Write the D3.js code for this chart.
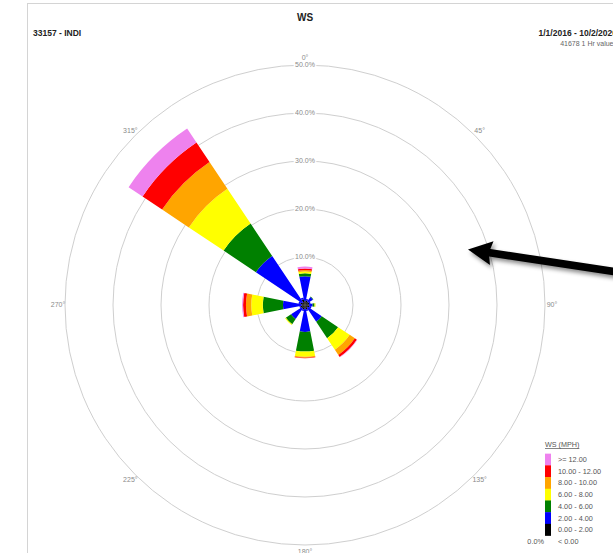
<!DOCTYPE html>
<html>
<head>
<meta charset="utf-8">
<script src="https://cdn.jsdelivr.net/npm/d3@7/dist/d3.min.js"></script>
<style>
  html, body { margin: 0; padding: 0; background: #fff; }
  svg { display: block; font-family: "Liberation Sans", Arial, sans-serif; }
</style>
</head>
<body>
<svg id="chart" width="613" height="553"></svg>
<script>
// Wind directions (degrees, compass bearing) — 16 sectors of 22.5°
const directions = [0, 22.5, 45, 67.5, 90, 112.5, 135, 157.5, 180, 202.5, 225, 247.5, 270, 292.5, 315, 337.5];

// Percent of hours per direction in each wind-speed class (MPH)
const ws0to2   = [0.8, 1.0, 0.8, 0.9, 0.8, 1.0, 0.7, 1.0, 0.8, 1.0, 0.8, 1.0, 0.7, 1.0, 0.7, 1.2];
const ws2to4   = [5.2, 0.3, 1.2, 0.3, 0.8, 0.4, 3.5, 0.3, 4.8, 0.3, 2.7, 0.2, 3.9, 0.4, 11.6, 0.4];
const ws4to6   = [0.6, 0.0, 0.1, 0.0, 0.4, 0.0, 4.1, 0.0, 4.1, 0.0, 1.3, 0.0, 4.2, 0.0, 8.1, 0.0];
const ws6to8   = [0.4, 0.0, 0.0, 0.0, 0.2, 0.0, 2.9, 0.0, 1.1, 0.0, 0.2, 0.0, 2.4, 0.0, 8.7, 0.0];
const ws8to10  = [0.3, 0.0, 0.0, 0.0, 0.0, 0.0, 1.3, 0.0, 0.2, 0.0, 0.0, 0.0, 1.1, 0.0, 6.7, 0.0];
const ws10to12 = [0.3, 0.0, 0.0, 0.0, 0.0, 0.0, 0.5, 0.0, 0.1, 0.0, 0.0, 0.0, 0.6, 0.0, 4.9, 0.0];
const ws12up   = [0.4, 0.0, 0.0, 0.0, 0.0, 0.0, 0.1, 0.0, 0.0, 0.0, 0.0, 0.0, 0.2, 0.0, 3.5, 0.0];

// Speed classes, from the centre outward
const speedSeries = [ws0to2, ws2to4, ws4to6, ws6to8, ws8to10, ws10to12, ws12up];
const speedLabels = ["0.00 - 2.00", "2.00 - 4.00", "4.00 - 6.00", "6.00 - 8.00", "8.00 - 10.00", "10.00 - 12.00", ">= 12.00"];
const speedColors = ["#000000", "#0000ff", "#008000", "#ffff00", "#ffa500", "#ff0000", "#ee82ee"];

// Radial grid and compass labels
const ringTicks = [10, 20, 30, 40, 50];
const angleTicks = [0, 45, 90, 135, 180, 225, 270, 315];
const calmPercent = 0.0;

const svg = d3.select("#chart");
const cx = 305, cy = 305;
const rScale = d3.scaleLinear().domain([0, 50]).range([0, 240]);
const toRad = d => d * Math.PI / 180;
const sector = 22.5;

// Panel frame
svg.append("rect")
  .attr("x", 27.5).attr("y", 3.5)
  .attr("width", 700).attr("height", 700)
  .attr("fill", "#fff").attr("stroke", "#d4d4d4");

// Header texts
svg.append("text").attr("x", 305).attr("y", 21)
  .attr("text-anchor", "middle").attr("font-size", 10).attr("font-weight", "bold")
  .attr("fill", "#222").text("WS");
svg.append("text").attr("x", 33).attr("y", 36)
  .attr("font-size", 8.5).attr("font-weight", "bold").attr("fill", "#222")
  .text("33157 - INDI");
svg.append("text").attr("x", 617).attr("y", 36)
  .attr("text-anchor", "end").attr("font-size", 8.5).attr("font-weight", "bold").attr("fill", "#222")
  .text("1/1/2016 - 10/2/2020");
svg.append("text").attr("x", 617).attr("y", 46)
  .attr("text-anchor", "end").attr("font-size", 7).attr("fill", "#666")
  .text("41678 1 Hr values");

const g = svg.append("g").attr("transform", `translate(${cx},${cy})`);

// Rings
g.selectAll("circle.ring").data(ringTicks).join("circle")
  .attr("class", "ring")
  .attr("r", d => rScale(d))
  .attr("fill", "none").attr("stroke", "#cfcfcf").attr("stroke-width", 1);

// Stacked petals
const arc = d3.arc();
const petals = [];
directions.forEach((dir, i) => {
  let acc = 0;
  speedSeries.forEach((series, k) => {
    const v = series[i];
    if (v > 0) {
      petals.push({
        inner: acc, outer: acc + v,
        start: toRad(dir - sector / 2), end: toRad(dir + sector / 2),
        color: speedColors[k]
      });
    }
    acc += v;
  });
});
g.selectAll("path.petal").data(petals).join("path")
  .attr("class", "petal")
  .attr("d", d => arc({
    innerRadius: rScale(d.inner), outerRadius: rScale(d.outer),
    startAngle: d.start, endAngle: d.end
  }))
  .attr("fill", d => d.color);

// Ring percentage labels on the north axis
g.selectAll("text.ringlbl").data(ringTicks).join("text")
  .attr("class", "ringlbl")
  .attr("x", 0).attr("y", d => -rScale(d))
  .attr("dy", "0.35em")
  .attr("text-anchor", "middle").attr("font-size", 7)
  .attr("fill", "#8a8a8a")
  .attr("stroke", "#fff").attr("stroke-width", 3).attr("paint-order", "stroke")
  .text(d => d3.format(".1f")(d) + "%");

// Compass labels
const labelR = 247;
g.selectAll("text.anglbl").data(angleTicks).join("text")
  .attr("class", "anglbl")
  .attr("x", d => labelR * Math.sin(toRad(d)))
  .attr("y", d => -labelR * Math.cos(toRad(d)))
  .attr("dy", "0.35em")
  .attr("text-anchor", "middle").attr("font-size", 7)
  .attr("fill", "#8a8a8a")
  .text(d => d + "°");

// Legend
const legX = 545, legY0 = 459.5, legStep = 11.7;
svg.append("text").attr("x", legX).attr("y", 447)
  .attr("font-size", 7.2).attr("fill", "#555")
  .attr("text-decoration", "underline")
  .text("WS (MPH)");
const legendRows = speedLabels.map((t, k) => ({ label: t, color: speedColors[k] })).reverse();
const leg = svg.append("g");
leg.selectAll("rect").data(legendRows).join("rect")
  .attr("x", legX).attr("y", (d, i) => legY0 + i * legStep - legStep / 2)
  .attr("width", 6).attr("height", legStep + 0.3)
  .attr("fill", d => d.color);
leg.selectAll("text").data(legendRows).join("text")
  .attr("x", legX + 13).attr("y", (d, i) => legY0 + i * legStep)
  .attr("dy", "0.35em").attr("font-size", 7.3).attr("fill", "#555")
  .text(d => d.label);
const calmY = legY0 + legendRows.length * legStep;
svg.append("text").attr("x", legX - 1).attr("y", calmY).attr("dy", "0.35em")
  .attr("text-anchor", "end").attr("font-size", 7.3).attr("fill", "#555")
  .text(d3.format(".1f")(calmPercent) + "%");
svg.append("text").attr("x", legX + 13).attr("y", calmY).attr("dy", "0.35em")
  .attr("font-size", 7.3).attr("fill", "#555")
  .text("< 0.00");

// Callout arrow with soft shadow
const defs = svg.append("defs");
const f = defs.append("filter").attr("id", "shadow")
  .attr("x", "-20%").attr("y", "-50%").attr("width", "140%").attr("height", "200%");
f.append("feDropShadow").attr("dx", 2).attr("dy", 3)
  .attr("stdDeviation", 2).attr("flood-color", "#000").attr("flood-opacity", 0.45);

const tip = [468, 249.5], tail = [650, 277];
const ang = Math.atan2(tail[1] - tip[1], tail[0] - tip[0]);
const len = Math.hypot(tail[0] - tip[0], tail[1] - tip[1]);
const headLen = 24, headHalf = 12, shaftHalf = 3.8;
const local = [[0, 0], [headLen, -headHalf], [headLen - 2, -shaftHalf], [len, -shaftHalf],
               [len, shaftHalf], [headLen - 2, shaftHalf], [headLen, headHalf]];
const pts = local.map(([u, v]) => [
  tip[0] + u * Math.cos(ang) - v * Math.sin(ang),
  tip[1] + u * Math.sin(ang) + v * Math.cos(ang)
]);
svg.append("path")
  .attr("d", d3.line()(pts) + "Z")
  .attr("fill", "#000")
  .attr("filter", "url(#shadow)");
</script>
</body>
</html>
